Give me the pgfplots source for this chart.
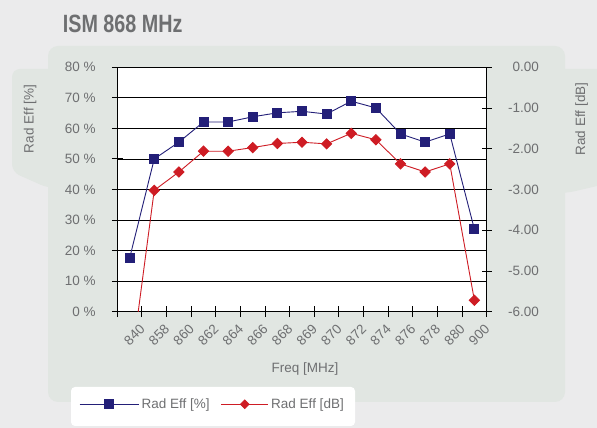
\documentclass[border=0pt]{standalone}
\usepackage{pgfplots}
\pgfplotsset{compat=1.18}
\usepackage{graphicx}
\usepackage{fontspec}
\setmainfont{Liberation Sans}
\definecolor{bgc}{RGB}{235,235,236}
\definecolor{panel}{RGB}{225,230,226}
\definecolor{txt}{RGB}{110,111,113}
\definecolor{navy}{RGB}{35,31,120}
\definecolor{dred}{RGB}{206,28,36}
\newcommand{\lblfont}{\fontsize{13.5}{16}\selectfont}
\pgfplotsset{
  longlegend/.style={legend image code/.code={\draw[mark repeat=2, mark phase=2, ##1] plot coordinates {(0pt,0pt) (29.5pt,0pt) (59pt,0pt)};}},
  shortlegend/.style={legend image code/.code={\draw[mark repeat=2, mark phase=2, ##1, mark size=3pt] plot coordinates {(0pt,0pt) (23.5pt,0pt) (47pt,0pt)};}},
}
\begin{document}
\begin{tikzpicture}
\fill[bgc] (0pt,0pt) rectangle (597pt,428pt);
\useasboundingbox (0pt,0pt) rectangle (597pt,428pt);
\fill[panel, rounded corners=10pt] (48pt,26pt) rectangle (565pt,382pt);
\fill[panel, rounded corners=8pt] (62pt,359pt) -- (12pt,359pt) -- (12pt,256pt) -- (30pt,248pt) -- (48pt,240pt) -- (62pt,240pt) -- cycle;
\fill[panel, rounded corners=8pt] (550pt,359pt) -- (610pt,359pt) -- (610pt,245pt) -- (567pt,235pt) -- (550pt,235pt) -- cycle;
\fill[white, rounded corners=4pt] (71pt,2pt) rectangle (355pt,41pt);
\node[anchor=base west, inner sep=0pt, text=txt] at (62.7pt,395pt) {\scalebox{0.79}[1]{\fontsize{25}{30}\selectfont\bfseries ISM 868 MHz}};

\begin{axis}[
  at={(117.3pt,116.3pt)}, anchor=south west, scale only axis,
  width=369.4pt, height=244.4pt,
  xmin=0.5, xmax=15.5, ymin=0, ymax=80,
  axis background/.style={fill=white},
  xtick={0.5,1.5,...,15.5},
  xticklabels={,840,858,860,862,864,866,868,869,870,872,874,876,878,880,900},
  ytick={0,10,...,80},
  yticklabel={\pgfmathprintnumber{\tick} \%},
  /pgf/number format/assume math mode=true,
  xtick pos=lower, ytick pos=left,
  tick align=center, major tick length=11pt,
  tick style={black, line width=0.9pt},
  axis line style={black, line width=1.2pt},
  ymajorgrids, grid style={black, line width=0.7pt},
  ticklabel style={font=\lblfont, text=txt},
  xticklabel style={xshift=0.5pt, yshift=-9.5pt, rotate=45, anchor=east, inner sep=0pt},
  yticklabel style={inner sep=0pt, xshift=-16pt},
  every axis y label/.style={at={(axis description cs:-0.2363,0.7885)}, rotate=90, anchor=center, font=\lblfont, text=txt},
  every axis x label/.style={at={(axis description cs:0.508,-0.2357)}, anchor=center, font=\lblfont, text=txt},
  ylabel={Rad Eff [\%]},
  xlabel={Freq [MHz]},
]
\addplot[navy, line width=0.9pt, mark=square*, mark size=4.5pt, mark options={solid}] coordinates {
(1,17.5) (2,50.0) (3,55.5) (4,62.1) (5,62.1) (6,63.8) (7,65.1) (8,65.6)
(9,64.7) (10,68.9) (11,66.7) (12,58.2) (13,55.5) (14,58.2) (15,27.0)
};
\end{axis}

\begin{axis}[
  at={(117.3pt,116.3pt)}, anchor=south west, scale only axis,
  width=369.4pt, height=244.4pt,
  xmin=0.5, xmax=15.5, ymin=-6, ymax=0,
  axis x line=none, axis y line*=right,
  ytick={-6,-5,-4,-3,-2,-1,0},
  /pgf/number format/fixed, /pgf/number format/fixed zerofill,
  /pgf/number format/precision=2, /pgf/number format/assume math mode=true,
  tick align=center, major tick length=10pt,
  tick style={black, line width=0.9pt},
  axis line style={black, line width=1.2pt},
  ticklabel style={font=\lblfont, text=txt},
  yticklabel style={anchor=east, inner sep=0pt, xshift=47.3pt},
  every axis y label/.style={at={(axis description cs:1.2572,0.7885)}, rotate=90, anchor=center, font=\lblfont, text=txt},
  ylabel={Rad Eff [dB]},
  legend columns=2,
  longlegend,
  legend style={draw=none, fill=none, inner sep=0pt, anchor=west,
    at={(axis description cs:-0.1037,-0.3789)}, font=\lblfont, text=txt,
    nodes={inner sep=2.5pt},
    /tikz/every even column/.append style={column sep=8.7pt}},
]
\addlegendimage{navy, line width=0.9pt, mark=square*, mark size=4.5pt}
\addlegendentry{Rad Eff [\%]}
\addplot[dred, line width=0.9pt, mark=square*, mark size=3.6pt, mark options={rotate=45}, shortlegend] coordinates {
(1,-7.6) (2,-3.02) (3,-2.57) (4,-2.06) (5,-2.06) (6,-1.97) (7,-1.87) (8,-1.84)
(9,-1.88) (10,-1.62) (11,-1.78) (12,-2.37) (13,-2.57) (14,-2.37) (15,-5.72)
};
\addlegendentry{Rad Eff [dB]}
\end{axis}
\end{tikzpicture}
\end{document}
